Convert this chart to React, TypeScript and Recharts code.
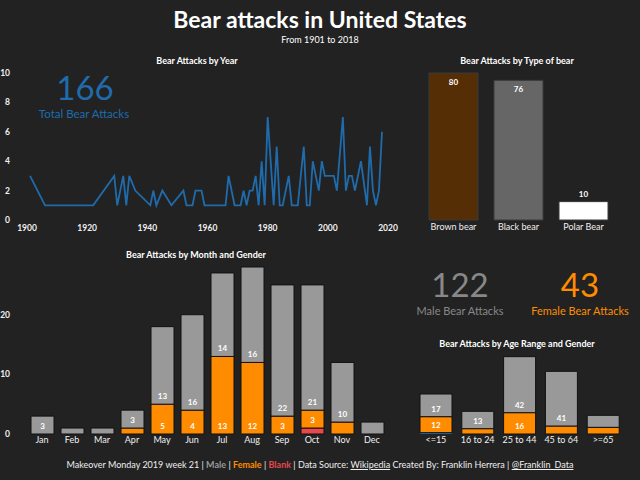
import React from 'react';
import { LineChart, Line, BarChart, Bar, XAxis, YAxis, Cell, LabelList } from 'recharts';

// yearly attacks (only years that appear in the line)
const years = [1901, 1906, 1922, 1929, 1930, 1932, 1933, 1934, 1936, 1941, 1942, 1943, 1945, 1948, 1952, 1953, 1955, 1956, 1958, 1959, 1966, 1967, 1969, 1971, 1972, 1973, 1974, 1975, 1976, 1977, 1978, 1979, 1980, 1982, 1983, 1984, 1985, 1987, 1988, 1990, 1992, 1993, 1994, 1995, 1997, 1998, 1999, 2002, 2003, 2005, 2006, 2007, 2008, 2009, 2011, 2013, 2014, 2015, 2016, 2017, 2018];
const yearAttacks = [3, 1, 1, 3, 1, 3, 1, 3, 2, 1, 2, 1, 2, 1, 2, 1, 1, 2, 2, 1, 1, 3, 1, 1, 2, 1, 2, 2, 3, 1, 4, 1, 7, 1, 5, 1, 1, 3, 1, 1, 5, 1, 1, 4, 2, 4, 3, 3, 2, 7, 2, 3, 3, 2, 4, 1, 5, 2, 1, 2, 6];
const yearTicks = [1900, 1920, 1940, 1960, 1980, 2000, 2020];
const attackTicks = [0, 2, 4, 6, 8, 10];

const bearTypes = ['Brown bear', 'Black bear', 'Polar Bear'];
const bearCounts = [80, 76, 10];

const months = ['Jan', 'Feb', 'Mar', 'Apr', 'May', 'Jun', 'Jul', 'Aug', 'Sep', 'Oct', 'Nov', 'Dec'];
const monthMale = [3, 1, 1, 3, 13, 16, 14, 16, 22, 21, 10, 2];
const monthFemale = [0, 0, 0, 1, 5, 4, 13, 12, 3, 3, 2, 0];
const monthBlank = [0, 0, 0, 0, 0, 0, 0, 0, 0, 1, 0, 0];
const monthTicks = [0, 10, 20];

const ageRanges = ['<=15', '16 to 24', '25 to 44', '45 to 64', '>=65'];
const ageMale = [17, 13, 42, 41, 9];
const ageFemale = [12, 4, 16, 6, 5];
const ageBlank = [1, 0, 0, 0, 0];

const totalAttacks = 166;
const maleAttacks = 122;
const femaleAttacks = 43;

const lineData = years.map((y, i) => ({ year: y, attacks: yearAttacks[i] }));
const bearData = bearTypes.map((t, i) => ({ type: t, count: bearCounts[i] }));
const monthData = months.map((m, i) => ({ month: m, blank: monthBlank[i], female: monthFemale[i], male: monthMale[i] }));
const ageData = ageRanges.map((a, i) => ({ age: a, blank: ageBlank[i], female: ageFemale[i], male: ageMale[i] }));

const BLUE = '#1f6bab';
const GRAY = '#999999';
const ORANGE = '#ff8c00';
const RED = '#e8474c';
const bearColors = ['#552e06', '#666666', '#ffffff'];
const FONT = 'Lato, "Noto Sans", sans-serif';

const tickStyle = { fill: '#f0f0f0', fontSize: 8.5, fontWeight: 700, fontFamily: FONT };

const Txt = ({ x, y, size, color = '#fff', weight = 400, children }: any) => (
  <div
    style={{
      position: 'absolute', left: x, top: y, transform: 'translate(-50%, -50%)',
      whiteSpace: 'nowrap', fontSize: size, color, fontWeight: weight, fontFamily: FONT, lineHeight: 1,
    }}
  >
    {children}
  </div>
);

const insideBottom = (min: number) => (props: any) => {
  const { x, y, width, height, value } = props;
  if (!value || value < min) return null;
  return (
    <text x={x + width / 2} y={y + height - 5} textAnchor="middle" fill="#fff" fontSize={8} fontWeight={700} fontFamily={FONT}>
      {value}
    </text>
  );
};

const bearLabel = (props: any) => {
  const { x, y, width, height, value } = props;
  const inside = height > 30;
  return (
    <text x={x + width / 2} y={inside ? y + 12 : y - 5} textAnchor="middle" fill="#fff" fontSize={8} fontWeight={700} fontFamily={FONT}>
      {value}
    </text>
  );
};

export default function App() {
  return (
    <div style={{ position: 'absolute', left: 0, top: 0, width: 640, height: 480, background: '#222222', overflow: 'hidden', fontFamily: FONT }}>
      <Txt x={320} y={19} size={23} weight={700}>Bear attacks in United States</Txt>
      <Txt x={320} y={39} size={9}>From 1901 to 2018</Txt>

      {/* year line */}
      <Txt x={197} y={60} size={9} weight={700}>Bear Attacks by Year</Txt>
      <div style={{ position: 'absolute', left: 0, top: 50 }}>
        <LineChart width={400} height={190} data={lineData} margin={{ top: 23, right: 12, bottom: 0, left: 0 }}>
          <XAxis dataKey="year" type="number" domain={[1900, 2020]} ticks={yearTicks} axisLine={false} tickLine={false} tickSize={0} tickMargin={5} height={20} tick={tickStyle} />
          <YAxis domain={[0, 10]} ticks={attackTicks} axisLine={false} tickLine={false} tickSize={0} tickMargin={17} width={27} tick={tickStyle} />
          <Line type="linear" dataKey="attacks" stroke={BLUE} strokeWidth={1.8} dot={false} isAnimationActive={false} />
        </LineChart>
      </div>
      <Txt x={85} y={87} size={33} color={BLUE}>{totalAttacks}</Txt>
      <Txt x={84} y={114} size={11.5} color={BLUE}>Total Bear Attacks</Txt>

      {/* bear type */}
      <Txt x={517} y={60} size={9} weight={700}>Bear Attacks by Type of bear</Txt>
      <div style={{ position: 'absolute', left: 400, top: 50 }}>
        <BarChart width={240} height={190} data={bearData} margin={{ top: 23, right: 24, bottom: 0, left: 21 }} barSize={49}>
          <XAxis dataKey="type" axisLine={false} tickLine={false} tickSize={0} tickMargin={4} height={20} tick={{ ...tickStyle, fontSize: 9, fontWeight: 400 }} />
          <YAxis hide domain={[0, 80]} />
          <Bar dataKey="count" stroke="#3a3a3a" strokeWidth={1} isAnimationActive={false}>
            {bearData.map((d, i) => <Cell key={d.type} fill={bearColors[i]} />)}
            <LabelList dataKey="count" content={bearLabel} />
          </Bar>
        </BarChart>
      </div>

      {/* month and gender */}
      <Txt x={196} y={254} size={9} weight={700}>Bear Attacks by Month and Gender</Txt>
      <div style={{ position: 'absolute', left: 0, top: 240 }}>
        <BarChart width={400} height={210} data={monthData} margin={{ top: 27, right: 13, bottom: 0, left: 0 }} barSize={23}>
          <XAxis dataKey="month" axisLine={false} tickLine={false} tickSize={0} tickMargin={3} height={16} tick={{ ...tickStyle, fontSize: 9, fontWeight: 400 }} />
          <YAxis domain={[0, 28]} ticks={monthTicks} axisLine={false} tickLine={false} tickSize={0} tickMargin={17} width={27} tick={tickStyle} />
          <Bar dataKey="blank" stackId="g" fill={RED} stroke="#111" strokeWidth={1} isAnimationActive={false} />
          <Bar dataKey="female" stackId="g" fill={ORANGE} stroke="#111" strokeWidth={1} isAnimationActive={false}>
            <LabelList dataKey="female" content={insideBottom(3)} />
          </Bar>
          <Bar dataKey="male" stackId="g" fill={GRAY} stroke="#111" strokeWidth={1} isAnimationActive={false}>
            <LabelList dataKey="male" content={insideBottom(3)} />
          </Bar>
        </BarChart>
      </div>

      {/* KPI cards */}
      <Txt x={460} y={284} size={33} color="#888888">{maleAttacks}</Txt>
      <Txt x={460} y={310} size={11} color="#888888">Male Bear Attacks</Txt>
      <Txt x={580} y={284} size={33} color={ORANGE}>{femaleAttacks}</Txt>
      <Txt x={580} y={310} size={11} color={ORANGE}>Female Bear Attacks</Txt>

      {/* age and gender */}
      <Txt x={517} y={343} size={9} weight={700}>Bear Attacks by Age Range and Gender</Txt>
      <div style={{ position: 'absolute', left: 400, top: 340 }}>
        <BarChart width={240} height={110} data={ageData} margin={{ top: 14, right: 16, bottom: 0, left: 15 }} barSize={32}>
          <XAxis dataKey="age" axisLine={false} tickLine={false} tickSize={0} tickMargin={3} height={16} tick={{ ...tickStyle, fontSize: 9, fontWeight: 400 }} />
          <YAxis hide domain={[0, 60]} />
          <Bar dataKey="blank" stackId="g" fill={BLUE} isAnimationActive={false} />
          <Bar dataKey="female" stackId="g" fill={ORANGE} stroke="#111" strokeWidth={1} isAnimationActive={false}>
            <LabelList dataKey="female" content={insideBottom(10)} />
          </Bar>
          <Bar dataKey="male" stackId="g" fill={GRAY} stroke="#111" strokeWidth={1} isAnimationActive={false}>
            <LabelList dataKey="male" content={insideBottom(10)} />
          </Bar>
        </BarChart>
      </div>

      {/* footer */}
      <div style={{ position: 'absolute', left: 0, top: 460, width: 640, textAlign: 'center', fontSize: 9, color: '#eee', fontFamily: FONT, whiteSpace: 'nowrap', lineHeight: 1 }}>
        Makeover Monday 2019 week 21 | <b style={{ color: GRAY }}>Male</b> | <b style={{ color: ORANGE }}>Female</b> | <b style={{ color: RED }}>Blank</b> | Data Source: <u>Wikipedia</u> Created By: Franklin Herrera | <u>@Franklin_Data</u>
      </div>
    </div>
  );
}
